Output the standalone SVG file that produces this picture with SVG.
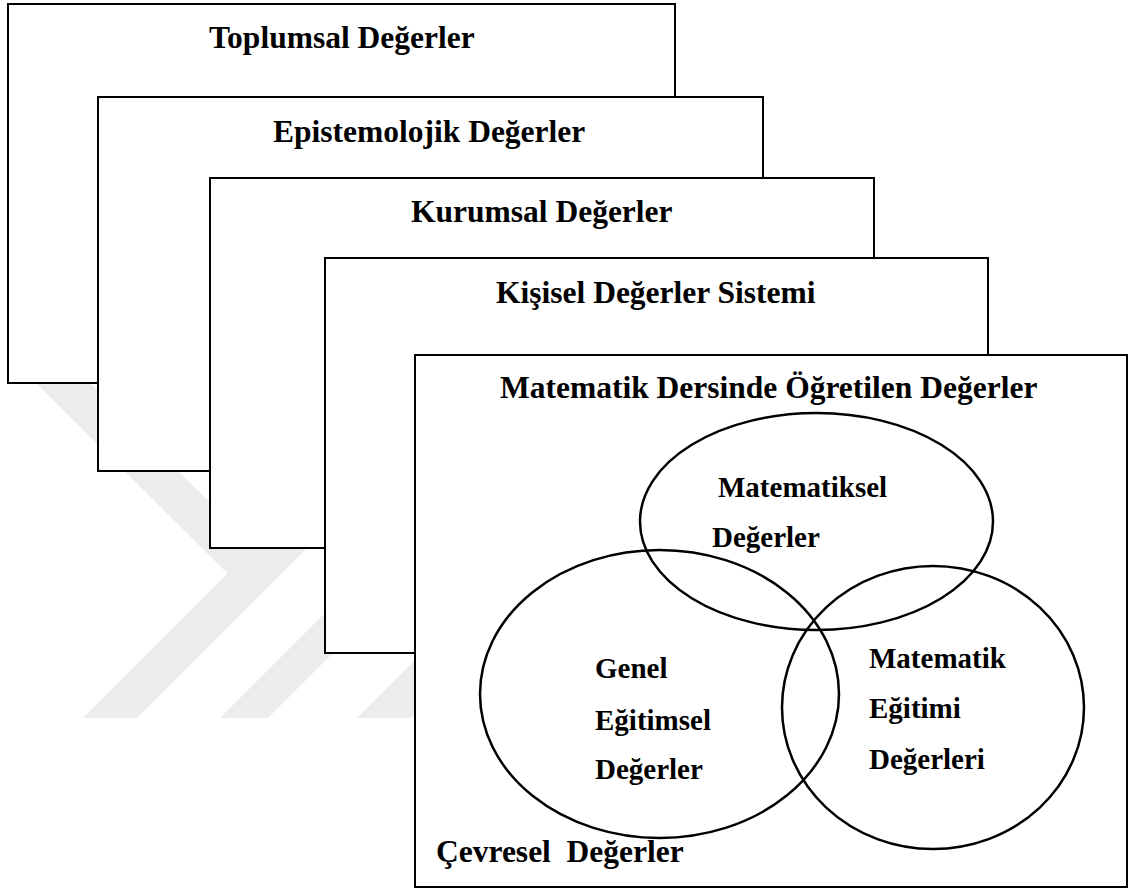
<svg xmlns="http://www.w3.org/2000/svg" width="1128" height="890" viewBox="0 0 1128 890">
  <style>
    .box { fill: #ffffff; stroke: #000000; stroke-width: 2; }
    .venn { fill: none; stroke: #000000; stroke-width: 2.5; }
    .wm { fill: #ececec; stroke: none; }
    .hd { font-family: "Liberation Serif", "Times New Roman", serif; font-weight: bold; font-size: 31.5px; fill: #000000; }
    .in { font-family: "Liberation Serif", "Times New Roman", serif; font-weight: bold; font-size: 29px; fill: #000000; }
  </style>
  <rect x="0" y="0" width="1128" height="890" fill="#ffffff"/>
  <g id="watermark">
    <polygon class="wm" points="37,384 91,384 282,574 228,574"/>
    <polygon class="wm" points="83,718 137,718 315,540 261,540"/>
    <polygon class="wm" points="220,718 268,718 426,560 378,560"/>
    <polygon class="wm" points="357,718 410,718 528,600 475,600"/>
  </g>
  <g id="toplumsal">
    <rect class="box" x="8" y="4" width="667" height="379"/>
    <text class="hd" x="209" y="48">Toplumsal Değerler</text>
  </g>
  <g id="epistemolojik">
    <rect class="box" x="98" y="97" width="665" height="374"/>
    <text class="hd" x="273" y="142">Epistemolojik Değerler</text>
  </g>
  <g id="kurumsal">
    <rect class="box" x="210" y="178" width="664" height="370"/>
    <text class="hd" x="411" y="222">Kurumsal Değerler</text>
  </g>
  <g id="kisisel">
    <rect class="box" x="325" y="258" width="663" height="395"/>
    <text class="hd" x="496" y="303">Kişisel Değerler Sistemi</text>
  </g>
  <g id="matematik-dersinde">
    <rect class="box" x="415" y="355" width="712" height="532"/>
    <text class="hd" x="500" y="398">Matematik Dersinde Öğretilen Değerler</text>
    <text class="hd" x="436" y="862" style="white-space:pre">Çevresel  Değerler</text>
  </g>
  <g id="matematiksel-degerler">
    <ellipse class="venn" cx="816.5" cy="521.5" rx="176.5" ry="108.5"/>
    <text class="in" x="718" y="497">Matematiksel</text>
    <text class="in" x="712" y="547">Değerler</text>
  </g>
  <g id="genel-egitimsel-degerler">
    <ellipse class="venn" cx="659.5" cy="694" rx="179.5" ry="144"/>
    <text class="in" x="595" y="678">Genel</text>
    <text class="in" x="595" y="730">Eğitimsel</text>
    <text class="in" x="595" y="779">Değerler</text>
  </g>
  <g id="matematik-egitimi-degerleri">
    <ellipse class="venn" cx="933" cy="707.5" rx="151" ry="141.5"/>
    <text class="in" x="869" y="668">Matematik</text>
    <text class="in" x="869" y="718">Eğitimi</text>
    <text class="in" x="869" y="769">Değerleri</text>
  </g>
  <g id="connectors"/>
</svg>
